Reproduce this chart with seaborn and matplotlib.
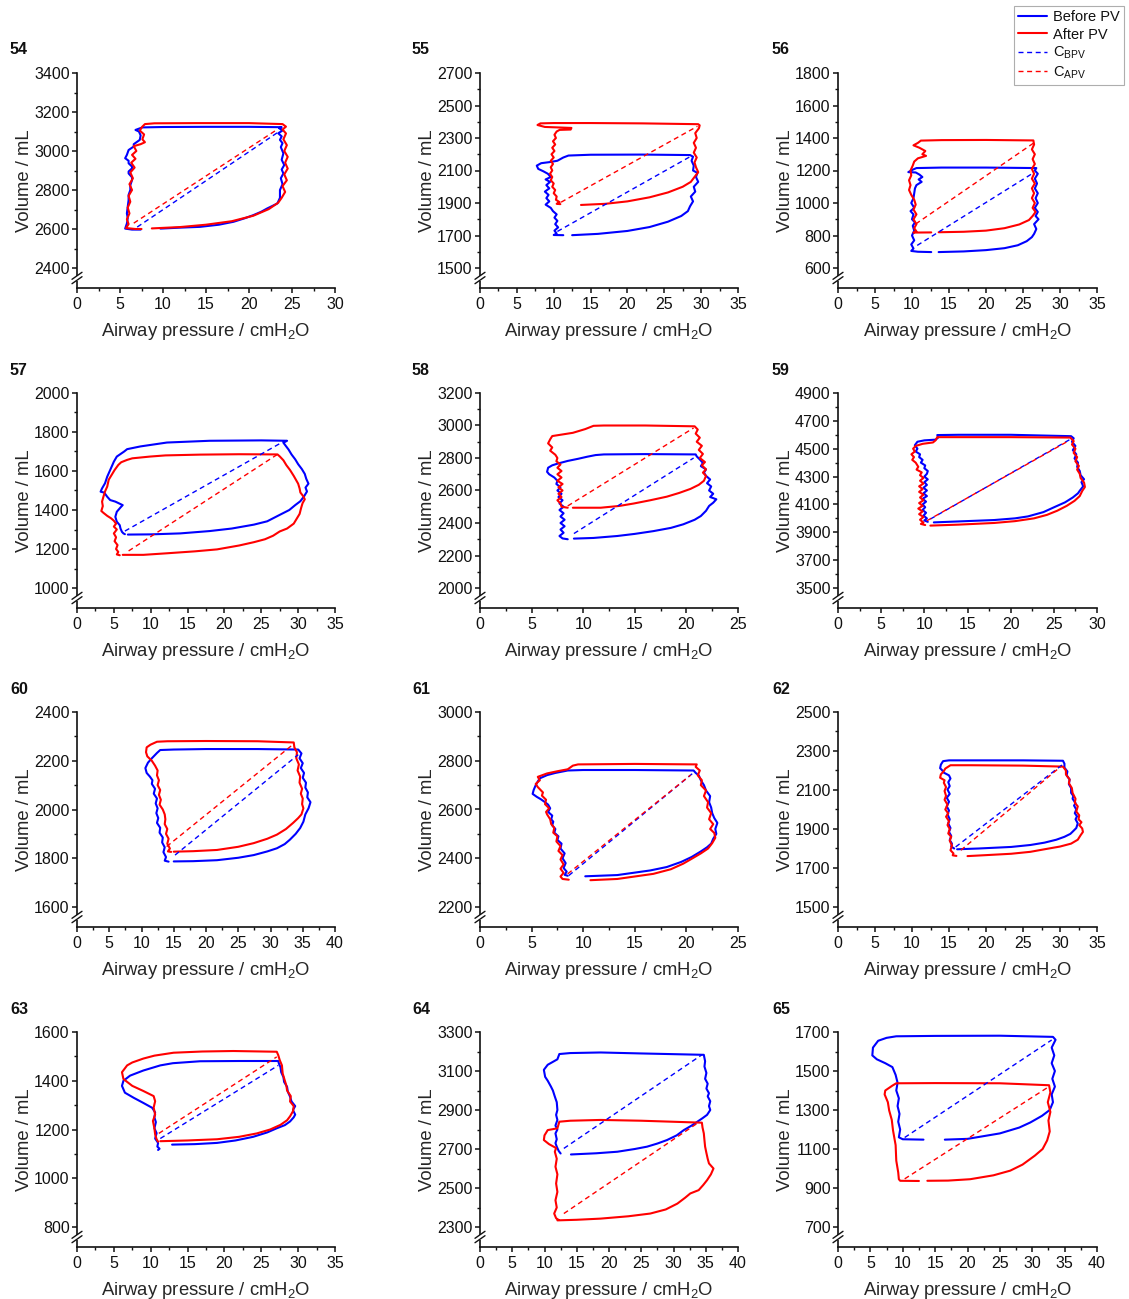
import numpy as np
import pandas as pd
import matplotlib
matplotlib.use("Agg")
import matplotlib.pyplot as plt
from matplotlib.lines import Line2D
from matplotlib.patches import Rectangle
import seaborn as sns

# ---------------------------------------------------------------- panel setup
PANEL_IDS = [54, 55, 56, 57, 58, 59, 60, 61, 62, 63, 64, 65]
X_MAX = [30, 35, 35, 35, 25, 30, 40, 25, 35, 35, 40, 40]
Y_TOP = [3400, 2700, 1800, 2000, 3200, 4900, 2400, 3000, 2500, 1600, 3300, 1700]
Y_BOTTOM = [2400, 1500, 600, 1000, 2000, 3500, 1600, 2200, 1500, 800, 2300, 700]

# ------------------------------------------------ PV loops (pressure, volume)
before_54 = [(9.7, 2602), (12, 2607), (14.3, 2611), (16.5, 2622), (18.2, 2637), (19.5, 2655), (20.5, 2671),
             (21.4, 2688), (22.1, 2705), (22.8, 2720), (23.3, 2731), (23.6, 2760), (23.6, 2800), (23.9, 2830),
             (23.7, 2860), (24.0, 2885), (23.8, 2905), (24.1, 2928), (23.8, 2955), (24.0, 2988), (23.7, 3020),
             (23.9, 3040), (23.6, 3057), (23.8, 3075), (23.4, 3091), (23.9, 3105), (23.5, 3117), (23.8, 3122),
             (20, 3124), (15, 3124), (10, 3123), (7.6, 3121), (6.8, 3108), (7.2, 3100), (7.4, 3080), (7.3, 3057),
             (6.6, 3035), (6.6, 3023), (6.0, 3005), (5.8, 2980), (5.6, 2963), (6.0, 2950), (6.0, 2937),
             (6.4, 2920), (6.4, 2911), (6.0, 2895), (6.0, 2885), (6.4, 2865), (6.4, 2851), (6.2, 2825),
             (6.2, 2800), (6.0, 2775), (6.0, 2748), (5.9, 2715), (5.8, 2680), (5.9, 2655), (5.8, 2628),
             (5.6, 2602), (6.4, 2597), (7.4, 2597)]
after_54 = [(8.7, 2603), (12, 2610), (15, 2622), (18, 2640), (20.5, 2668), (22.3, 2702), (23.4, 2735),
            (23.8, 2760), (24.2, 2790), (23.9, 2820), (24.4, 2850), (24.1, 2880), (24.5, 2910), (24.2, 2940),
            (24.5, 2970), (24.1, 3000), (24.4, 3030), (24.0, 3060), (24.3, 3090), (23.9, 3110), (24.3, 3125),
            (23.9, 3138), (20, 3143), (14, 3143), (9, 3142), (7.9, 3138), (7.6, 3125), (7.3, 3105), (7.8, 3085),
            (7.6, 3060), (7.9, 3045), (7.4, 3035), (6.6, 3025), (6.9, 3000), (6.4, 2980), (6.8, 2960),
            (6.3, 2940), (6.7, 2915), (6.2, 2890), (6.5, 2860), (6.1, 2830), (6.4, 2800), (6.0, 2770),
            (6.2, 2740), (5.9, 2710), (6.1, 2680), (5.8, 2650), (6.0, 2625), (5.7, 2605), (6.8, 2600),
            (7.5, 2600)]

before_55 = [(12.5, 1702), (16, 1710), (20, 1728), (23, 1752), (25.5, 1785), (27.3, 1820), (28.2, 1850),
             (28.5, 1880), (28.9, 1910), (28.6, 1940), (29.2, 1970), (29.0, 2000), (29.6, 2030), (29.3, 2060),
             (29.5, 2085), (28.9, 2100), (29.0, 2130), (28.7, 2160), (28.9, 2185), (28.5, 2195), (22, 2198),
             (15, 2197), (12, 2192), (11.3, 2180), (10.5, 2160), (9.5, 2152), (8.3, 2145), (7.7, 2130),
             (7.9, 2110), (8.6, 2095), (9.2, 2080), (9.6, 2060), (8.9, 2045), (9.5, 2030), (9.0, 2010),
             (9.4, 1990), (8.8, 1970), (9.3, 1950), (9.0, 1930), (9.4, 1910), (8.9, 1890), (9.6, 1870),
             (9.9, 1850), (10.4, 1830), (10.1, 1810), (10.5, 1790), (10.2, 1770), (10.6, 1750), (10.1, 1730),
             (10.4, 1712), (10.0, 1703), (11.3, 1702)]
after_55 = [(13.7, 1888), (17, 1895), (20, 1910), (23, 1935), (25.5, 1965), (27.5, 2000), (28.6, 2030),
            (29.1, 2060), (29.6, 2090), (29.3, 2120), (29.1, 2150), (29.4, 2180), (29.0, 2210), (29.3, 2240),
            (29.0, 2270), (29.4, 2300), (29.2, 2330), (29.7, 2360), (29.8, 2378), (29.6, 2385), (22, 2390),
            (15, 2392), (10, 2392), (8.2, 2390), (7.8, 2380), (8.8, 2368), (12.4, 2362), (12.3, 2352),
            (10.8, 2350), (10.4, 2340), (10.1, 2320), (10.3, 2300), (9.9, 2280), (10.2, 2260), (9.8, 2240),
            (10.1, 2220), (9.7, 2200), (10.0, 2180), (9.6, 2160), (9.9, 2140), (9.6, 2120), (9.8, 2100),
            (9.5, 2080), (9.8, 2060), (9.6, 2040), (10.0, 2020), (9.8, 2000), (10.2, 1980), (10.0, 1960),
            (10.4, 1940), (10.3, 1920), (10.8, 1905), (10.4, 1895), (10.9, 1893)]

before_56 = [(13.6, 698), (17, 702), (20, 710), (22.5, 722), (24.3, 740), (25.5, 765), (26.2, 790),
             (26.5, 810), (26.8, 840), (26.5, 870), (27.1, 900), (26.7, 920), (27.0, 945), (26.6, 970),
             (27.0, 1000), (26.7, 1030), (27.0, 1060), (26.6, 1090), (26.9, 1120), (26.6, 1150), (27.0, 1180),
             (26.6, 1200), (26.8, 1215), (20, 1218), (14, 1218), (10.6, 1215), (10.1, 1205), (9.5, 1190),
             (10.5, 1188), (11.0, 1175), (11.4, 1160), (10.9, 1145), (11.3, 1130), (10.6, 1110), (10.4, 1090),
             (10.3, 1060), (10.2, 1030), (9.9, 1000), (10.3, 970), (9.8, 950), (10.2, 930), (10.0, 900),
             (10.4, 880), (10.1, 860), (10.3, 830), (10.0, 800), (10.3, 770), (9.9, 745), (10.2, 720),
             (9.9, 705), (10.8, 700), (12.6, 698)]
after_56 = [(13.6, 820), (17, 823), (20, 830), (22.5, 845), (24.5, 868), (25.8, 895), (26.3, 920),
            (26.7, 945), (26.3, 970), (26.6, 1000), (26.2, 1030), (26.5, 1060), (26.2, 1090), (26.6, 1120),
            (26.2, 1150), (26.5, 1180), (26.2, 1210), (26.6, 1240), (26.3, 1270), (26.6, 1300), (26.2, 1330),
            (26.5, 1360), (26.4, 1385), (20, 1388), (14, 1387), (11.2, 1384), (10.8, 1370), (10.2, 1355),
            (11.0, 1340), (11.8, 1320), (11.4, 1300), (11.9, 1290), (10.8, 1275), (10.3, 1255), (10.1, 1230),
            (9.8, 1200), (9.9, 1170), (9.6, 1140), (9.8, 1110), (9.6, 1080), (9.9, 1050), (10.3, 1020),
            (10.5, 990), (10.2, 960), (10.6, 930), (10.2, 900), (10.6, 870), (10.3, 845), (10.6, 825),
            (10.2, 818), (12.6, 819)]

before_57 = [(6.9, 1274), (10, 1275), (14, 1280), (18, 1292), (21, 1305), (24, 1325), (25.8, 1342),
             (27.5, 1375), (28.8, 1400), (29.6, 1425), (30.3, 1445), (30.8, 1470), (31.2, 1495), (31.0, 1515),
             (31.4, 1535), (31.1, 1560), (30.9, 1585), (30.5, 1610), (30.0, 1635), (29.6, 1660), (29.1, 1685),
             (28.7, 1710), (28.3, 1730), (28.0, 1745), (28.5, 1755), (25, 1757), (18, 1755), (12.2, 1746),
             (8.6, 1726), (6.8, 1712), (6.4, 1700), (5.4, 1674), (5.0, 1648), (4.5, 1605), (4.1, 1571),
             (3.8, 1537), (3.4, 1511), (3.2, 1494), (3.7, 1489), (4.1, 1468), (4.5, 1451), (5.2, 1443),
             (6.2, 1425), (5.9, 1413), (5.4, 1391), (5.2, 1365), (5.4, 1340), (5.8, 1322), (5.9, 1305),
             (6.1, 1288), (6.3, 1280), (6.5, 1276)]
after_57 = [(6.2, 1170), (9, 1170), (12.2, 1178), (16, 1188), (19, 1198), (22, 1218), (24, 1235),
            (25.5, 1250), (26.6, 1268), (27.5, 1290), (28.5, 1305), (29.4, 1330), (29.8, 1355), (30.2, 1380),
            (30.4, 1410), (30.6, 1435), (30.9, 1455), (30.7, 1470), (30.3, 1490), (30.2, 1510), (30.0, 1535),
            (29.7, 1555), (29.4, 1575), (28.9, 1605), (28.4, 1630), (28.0, 1655), (27.5, 1675), (27.2, 1685),
            (22, 1686), (16.7, 1684), (12, 1680), (9.9, 1674), (7.5, 1665), (6.8, 1657), (6.0, 1645),
            (5.6, 1631), (5.1, 1605), (4.7, 1580), (4.3, 1555), (4.1, 1520), (3.8, 1495), (3.6, 1470),
            (3.4, 1443), (3.5, 1420), (3.3, 1395), (3.6, 1385), (4.1, 1370), (4.6, 1358), (5.0, 1345),
            (5.3, 1330), (5.0, 1315), (5.4, 1300), (5.0, 1280), (5.3, 1260), (5.1, 1240), (5.5, 1220),
            (5.3, 1200), (5.6, 1185), (5.4, 1172), (5.8, 1168)]

before_58 = [(9.1, 2304), (11, 2308), (13.3, 2320), (15, 2333), (16.8, 2350), (18.5, 2370), (19.7, 2392),
             (20.8, 2420), (21.4, 2443), (21.9, 2475), (22.2, 2505), (22.6, 2525), (22.9, 2546), (22.3, 2560),
             (22.6, 2580), (22.2, 2600), (22.4, 2625), (22.0, 2645), (22.3, 2668), (21.9, 2690), (21.7, 2710),
             (21.9, 2730), (21.4, 2750), (21.6, 2770), (21.3, 2791), (21.0, 2810), (20.9, 2822), (16, 2824),
             (12, 2822), (11.2, 2818), (10.4, 2808), (9.5, 2795), (8.5, 2782), (7.5, 2765), (7.0, 2755),
             (6.6, 2740), (6.5, 2715), (6.7, 2700), (7.2, 2680), (7.5, 2660), (7.4, 2640), (7.8, 2620),
             (7.5, 2600), (7.9, 2580), (7.6, 2560), (8.0, 2540), (7.7, 2520), (8.1, 2500), (7.7, 2480),
             (8.1, 2460), (7.8, 2440), (8.2, 2420), (7.8, 2400), (8.2, 2380), (7.8, 2360), (8.1, 2340),
             (7.7, 2320), (8.0, 2305), (8.5, 2300)]
after_58 = [(9.0, 2494), (11.7, 2494), (13.5, 2505), (14.9, 2520), (16.5, 2540), (18.1, 2562), (19.3, 2585),
            (20.4, 2610), (21.2, 2635), (21.7, 2660), (21.9, 2690), (21.6, 2710), (21.9, 2730), (21.5, 2755),
            (21.8, 2775), (21.3, 2800), (21.6, 2825), (21.2, 2850), (21.5, 2875), (21.0, 2900), (21.3, 2925),
            (20.9, 2950), (21.1, 2975), (20.8, 2995), (16, 3000), (12, 3000), (11.0, 2998), (10.2, 2978),
            (9.0, 2955), (8.0, 2945), (7.0, 2935), (6.8, 2915), (6.6, 2890), (7.0, 2865), (6.8, 2845),
            (7.3, 2820), (7.5, 2800), (7.4, 2780), (7.8, 2760), (7.5, 2740), (7.9, 2720), (7.5, 2700),
            (7.9, 2680), (7.5, 2660), (8.0, 2640), (7.6, 2620), (8.0, 2600), (7.6, 2580), (7.9, 2560),
            (7.5, 2540), (7.8, 2520), (7.9, 2500), (8.5, 2494)]

before_59 = [(11.1, 3971), (14, 3978), (18.1, 3988), (20.5, 4000), (22, 4014), (23.8, 4045), (25, 4079),
             (26.3, 4115), (27.2, 4150), (27.8, 4180), (28.0, 4198), (28.4, 4230), (28.2, 4260), (28.5, 4281),
             (28.1, 4310), (28.0, 4340), (27.7, 4370), (27.8, 4400), (27.4, 4430), (27.6, 4460), (27.2, 4490),
             (27.5, 4520), (27.1, 4550), (27.3, 4575), (27.0, 4590), (20, 4600), (14, 4600), (11.5, 4598),
             (11.6, 4580), (11.3, 4565), (10.0, 4560), (9.2, 4550), (8.9, 4525), (9.2, 4500), (9.0, 4480),
             (9.5, 4460), (9.4, 4440), (9.8, 4420), (9.6, 4400), (10.1, 4380), (10.0, 4360), (10.4, 4340),
             (10.3, 4320), (10.0, 4300), (10.4, 4280), (10.0, 4260), (10.3, 4240), (9.9, 4220), (10.3, 4200),
             (9.9, 4180), (10.3, 4160), (9.8, 4140), (10.2, 4120), (9.8, 4100), (10.1, 4080), (9.8, 4060),
             (10.2, 4040), (9.9, 4020), (10.3, 4000), (10.0, 3985), (10.4, 3975)]
after_59 = [(10.7, 3948), (14, 3955), (18.1, 3967), (20.5, 3980), (22.7, 4000), (24.2, 4025), (25.4, 4055),
            (26.5, 4090), (27.4, 4126), (28.0, 4160), (28.3, 4198), (28.6, 4225), (28.5, 4257), (28.1, 4290),
            (28.0, 4320), (27.7, 4350), (27.9, 4376), (27.5, 4410), (27.7, 4440), (27.3, 4470), (27.5, 4500),
            (27.1, 4530), (27.3, 4555), (26.9, 4580), (20, 4583), (14, 4583), (11.5, 4583), (11.3, 4560),
            (11.0, 4545), (9.8, 4535), (9.0, 4520), (8.7, 4500), (8.9, 4480), (8.5, 4460), (8.8, 4440),
            (8.6, 4420), (9.0, 4400), (9.3, 4370), (9.1, 4350), (9.7, 4330), (9.5, 4310), (9.9, 4290),
            (9.5, 4270), (9.9, 4250), (9.4, 4230), (9.8, 4210), (9.4, 4190), (9.9, 4170), (9.5, 4150),
            (9.9, 4130), (9.4, 4110), (9.8, 4090), (9.3, 4070), (9.8, 4050), (9.4, 4030), (9.9, 4010),
            (9.5, 3990), (9.9, 3970), (9.6, 3960), (10.1, 3952)]

before_60 = [(15.0, 1787), (18, 1788), (21.7, 1792), (25, 1802), (27.4, 1813), (29.5, 1828), (31, 1841),
             (32.2, 1858), (33, 1876), (33.9, 1900), (34.6, 1924), (35.1, 1950), (35.4, 1980), (35.9, 2005),
             (36.2, 2030), (35.7, 2050), (35.8, 2070), (35.4, 2090), (35.5, 2110), (35.0, 2130), (35.2, 2150),
             (34.7, 2170), (35.0, 2190), (34.5, 2210), (34.8, 2230), (34.3, 2246), (28, 2248), (20, 2248),
             (15, 2246), (12.9, 2244), (12.4, 2232), (11.6, 2210), (11.0, 2192), (10.6, 2170), (10.8, 2150),
             (11.3, 2135), (11.7, 2120), (11.6, 2105), (12.1, 2085), (11.9, 2065), (12.4, 2045), (12.2, 2025),
             (12.5, 2005), (12.3, 1985), (12.6, 1965), (12.4, 1945), (12.9, 1925), (12.8, 1905), (13.3, 1885),
             (13.2, 1865), (13.6, 1845), (13.4, 1825), (13.8, 1805), (13.6, 1790), (14.2, 1786)]
after_60 = [(15.0, 1827), (18, 1829), (21.7, 1834), (25, 1847), (27.4, 1862), (29.5, 1880), (31, 1897),
            (32.4, 1920), (33.5, 1945), (34.3, 1965), (34.8, 1980), (35.1, 2005), (34.9, 2022), (35.0, 2045),
            (34.7, 2065), (34.9, 2085), (34.5, 2110), (34.6, 2135), (34.2, 2160), (34.4, 2185), (34.0, 2210),
            (34.1, 2235), (33.7, 2255), (33.6, 2275), (28, 2280), (20, 2281), (14, 2280), (12.4, 2278),
            (11.4, 2266), (10.8, 2255), (10.7, 2235), (10.9, 2218), (11.6, 2200), (12.1, 2180), (12.5, 2160),
            (12.4, 2140), (12.7, 2120), (12.5, 2100), (12.9, 2080), (12.7, 2060), (13.0, 2040), (12.8, 2020),
            (13.3, 2000), (13.6, 1980), (13.7, 1960), (13.6, 1940), (14.0, 1920), (13.8, 1900), (14.2, 1880),
            (14.0, 1860), (14.4, 1840), (14.1, 1828), (14.6, 1826)]

before_61 = [(10.2, 2326), (13.3, 2331), (16.5, 2350), (18.1, 2364), (19.5, 2385), (20.5, 2405), (21.4, 2428),
             (22.0, 2445), (22.4, 2460), (22.6, 2480), (22.9, 2500), (22.8, 2520), (23.0, 2545), (22.7, 2565),
             (22.5, 2585), (22.4, 2608), (22.2, 2630), (22.3, 2655), (21.9, 2678), (21.7, 2700), (21.4, 2720),
             (21.2, 2740), (20.9, 2750), (20.7, 2760), (15, 2762), (10, 2762), (8.5, 2760), (7.3, 2750),
             (6.5, 2741), (5.8, 2728), (5.6, 2715), (5.4, 2700), (5.2, 2680), (5.1, 2664), (5.5, 2652),
             (5.9, 2642), (6.3, 2630), (6.6, 2620), (6.8, 2605), (6.6, 2590), (7.0, 2575), (6.9, 2560),
             (7.1, 2550), (7.0, 2535), (7.3, 2520), (7.2, 2505), (7.6, 2490), (7.5, 2475), (7.9, 2460),
             (7.8, 2440), (8.2, 2420), (8.0, 2400), (8.3, 2380), (8.1, 2360), (8.4, 2345), (8.2, 2332),
             (8.5, 2328)]
after_61 = [(10.7, 2310), (13.3, 2315), (16.8, 2336), (18.5, 2355), (19.7, 2378), (20.6, 2400), (21.4, 2420),
            (22.1, 2440), (22.5, 2462), (22.8, 2484), (22.7, 2504), (22.3, 2520), (22.6, 2540), (22.2, 2560),
            (22.4, 2585), (22.0, 2608), (22.1, 2630), (21.7, 2655), (21.9, 2678), (21.4, 2700), (21.5, 2720),
            (21.1, 2740), (21.3, 2760), (20.9, 2775), (21.0, 2785), (15, 2787), (9.5, 2785), (9.0, 2780),
            (8.5, 2765), (7.5, 2757), (6.5, 2748), (5.6, 2734), (5.8, 2720), (5.4, 2705), (5.6, 2692),
            (6.1, 2670), (6.0, 2657), (6.4, 2640), (6.3, 2622), (6.7, 2605), (6.4, 2590), (6.5, 2580),
            (6.8, 2560), (6.9, 2540), (7.2, 2525), (7.1, 2505), (7.5, 2490), (7.4, 2469), (7.8, 2450),
            (7.6, 2430), (8.0, 2413), (7.8, 2395), (8.1, 2375), (7.8, 2357), (8.1, 2340), (7.8, 2325),
            (8.0, 2315), (8.6, 2312)]

before_62 = [(16.1, 1796), (19, 1800), (23.4, 1808), (26, 1818), (27.9, 1830), (29.5, 1845), (30.6, 1860),
             (31.4, 1875), (31.7, 1886), (32.2, 1905), (32.4, 1929), (32.1, 1950), (32.3, 1965), (32.0, 1981),
             (32.2, 2000), (31.9, 2020), (32.1, 2033), (31.7, 2055), (31.8, 2070), (31.5, 2085), (31.5, 2110),
             (31.2, 2130), (31.3, 2154), (30.9, 2175), (31.0, 2195), (30.6, 2215), (30.6, 2235), (30.4, 2250),
             (25, 2252), (18, 2252), (15, 2252), (14.2, 2248), (13.9, 2230), (13.8, 2212), (14.1, 2200),
             (14.3, 2189), (15.0, 2175), (15.2, 2159), (14.9, 2140), (15.1, 2120), (14.8, 2102), (15.1, 2080),
             (14.7, 2060), (15.0, 2040), (14.7, 2016), (15.0, 1995), (14.8, 1975), (15.1, 1950), (14.9, 1929),
             (15.2, 1905), (15.0, 1885), (15.3, 1865), (15.1, 1843), (15.4, 1825), (15.3, 1810), (15.7, 1800)]
after_62 = [(17.5, 1761), (20, 1766), (23.4, 1773), (26, 1783), (27.9, 1796), (30, 1810), (31.5, 1825),
            (32.4, 1845), (32.8, 1869), (33.1, 1885), (33.0, 1903), (32.6, 1920), (32.9, 1935), (32.5, 1950),
            (32.6, 1970), (32.2, 1990), (32.4, 2016), (32.0, 2035), (32.1, 2055), (31.7, 2085), (31.6, 2110),
            (31.2, 2135), (31.3, 2154), (30.8, 2180), (30.8, 2200), (30.4, 2220), (25, 2225), (18, 2227),
            (15.2, 2227), (14.5, 2210), (14.3, 2197), (13.9, 2180), (13.8, 2163), (14.4, 2150), (14.3, 2137),
            (14.6, 2115), (14.4, 2095), (14.6, 2070), (14.4, 2050), (14.8, 2025), (14.5, 2000), (14.9, 1980),
            (14.6, 1963), (15.0, 1940), (14.8, 1920), (15.1, 1900), (14.9, 1877), (15.3, 1860), (15.1, 1840),
            (15.4, 1815), (15.2, 1791), (15.6, 1775), (15.5, 1765), (16.0, 1762)]

before_63 = [(12.9, 1138), (16, 1140), (19, 1145), (21.5, 1155), (23.9, 1170), (25.8, 1188), (27.1, 1205),
             (28.2, 1218), (28.9, 1233), (29.4, 1250), (29.6, 1261), (29.3, 1280), (29.6, 1296), (29.1, 1315),
             (28.9, 1335), (28.6, 1355), (28.5, 1375), (28.1, 1395), (28.0, 1415), (27.7, 1435), (27.6, 1456),
             (27.4, 1470), (27.3, 1481), (22, 1481), (16.7, 1480), (13, 1472), (11.3, 1463), (9.0, 1442),
             (7.2, 1421), (6.3, 1400), (6.1, 1379), (6.5, 1351), (7.7, 1330), (9.0, 1309), (10.2, 1289),
             (10.6, 1270), (10.5, 1250), (10.7, 1230), (10.5, 1205), (10.8, 1185), (10.6, 1163), (11.0, 1145),
             (10.9, 1130), (11.2, 1121), (11.0, 1116)]
after_63 = [(11.3, 1152), (15, 1155), (19, 1160), (22, 1170), (24.4, 1184), (26.2, 1200), (27.6, 1219),
            (28.5, 1238), (28.9, 1254), (29.3, 1275), (29.4, 1296), (28.9, 1315), (29.0, 1337), (28.5, 1360),
            (28.4, 1380), (28.2, 1400), (27.9, 1430), (27.8, 1463), (27.5, 1485), (27.3, 1505), (27.1, 1519),
            (21.2, 1522), (17, 1520), (13.1, 1515), (10.5, 1503), (9.0, 1491), (7.5, 1475), (6.8, 1463),
            (6.1, 1435), (6.3, 1407), (7.5, 1379), (9.0, 1358), (10.4, 1337), (10.6, 1316), (10.4, 1290),
            (10.6, 1261), (10.3, 1235), (10.5, 1205), (10.6, 1180), (10.8, 1160), (11.0, 1150)]

before_64 = [(14.1, 2672), (18, 2678), (21.3, 2686), (24, 2700), (25.9, 2712), (27.5, 2728), (29.0, 2746),
             (30.5, 2770), (31.6, 2797), (32.8, 2820), (33.7, 2840), (34.5, 2858), (35.2, 2875), (35.7, 2900),
             (35.5, 2920), (35.7, 2945), (35.3, 2970), (35.5, 2986), (35.1, 3010), (35.3, 3035), (34.9, 3060),
             (35.1, 3090), (34.8, 3123), (34.9, 3150), (34.7, 3183), (25, 3190), (18.7, 3195), (14, 3192),
             (12.3, 3187), (12.0, 3160), (11.2, 3145), (10.5, 3132), (9.9, 3106), (10.1, 3070), (10.5, 3050),
             (11.0, 3020), (11.3, 3000), (11.6, 2969), (11.9, 2940), (12.0, 2900), (11.8, 2875), (12.0, 2849),
             (11.7, 2820), (12.0, 2800), (11.7, 2780), (11.9, 2750), (11.7, 2730), (11.9, 2712), (12.2, 2690),
             (12.5, 2677)]
after_64 = [(12.0, 2334), (15, 2337), (18.7, 2343), (23, 2355), (26.4, 2369), (28.8, 2390), (30.6, 2420),
            (31.8, 2450), (32.6, 2472), (33.9, 2489), (34.6, 2515), (35.2, 2540), (35.8, 2570), (36.2, 2600),
            (35.5, 2626), (35.3, 2650), (35.1, 2680), (34.9, 2712), (34.8, 2745), (34.7, 2780), (34.5, 2810),
            (34.4, 2835), (25, 2845), (18.7, 2849), (14, 2845), (12.3, 2840), (12.0, 2806), (11.0, 2800),
            (10.5, 2797), (10.0, 2770), (9.9, 2746), (10.7, 2725), (11.8, 2705), (11.6, 2686), (11.9, 2650),
            (11.7, 2609), (12.0, 2570), (11.8, 2523), (12.0, 2480), (11.7, 2437), (11.9, 2400), (11.5, 2369),
            (11.8, 2345), (12.2, 2336)]

before_65 = [(16.5, 1148), (20, 1152), (25, 1180), (28, 1210), (29.7, 1236), (31.5, 1270), (32.7, 1300),
             (33.2, 1340), (33.0, 1380), (33.5, 1420), (33.1, 1460), (33.5, 1500), (33.0, 1540), (33.4, 1580),
             (33.0, 1620), (33.6, 1660), (33.2, 1675), (25, 1681), (15, 1680), (9, 1678), (7.5, 1670),
             (6.2, 1655), (5.4, 1620), (5.3, 1580), (6.0, 1560), (7.3, 1540), (8.4, 1520), (8.9, 1480),
             (9.2, 1440), (9.0, 1400), (9.4, 1360), (9.2, 1320), (9.5, 1280), (9.3, 1240), (9.6, 1200),
             (9.4, 1160), (10.0, 1150), (13.2, 1148)]
after_65 = [(13.8, 937), (17, 938), (20.4, 945), (24, 965), (26.6, 989), (28.5, 1020), (30.4, 1066),
            (31.6, 1100), (32.3, 1144), (32.7, 1190), (32.5, 1246), (32.8, 1290), (32.4, 1340), (32.8, 1390),
            (32.6, 1427), (25, 1437), (15, 1438), (9, 1437), (8.4, 1425), (7.3, 1400), (7.2, 1380),
            (7.7, 1340), (7.9, 1298), (8.3, 1250), (8.5, 1195), (8.9, 1120), (9.0, 1040), (9.3, 980),
            (9.4, 945), (9.6, 937), (12.5, 936)]

# -------------------------- compliance lines: end-expiration -> end-inspiration
cbpv_54 = [(7.0, 2610), (23.5, 3100)]
capv_54 = [(6.6, 2630), (23.2, 3108)]
cbpv_55 = [(10.5, 1725), (28.5, 2185)]
capv_55 = [(11.0, 1905), (29.5, 2372)]
cbpv_56 = [(10.7, 739), (26.5, 1188)]
capv_56 = [(10.5, 871), (26.5, 1371)]
cbpv_57 = [(6.5, 1292), (28.0, 1751)]
capv_57 = [(7.0, 1190), (27.1, 1683)]
cbpv_58 = [(9.1, 2335), (20.7, 2800)]
capv_58 = [(8.5, 2505), (20.7, 2985)]
cbpv_59 = [(10.7, 3995), (27.0, 4571)]
capv_59 = [(10.3, 3983), (26.8, 4560)]
cbpv_60 = [(15.2, 1813), (34.3, 2225)]
capv_60 = [(13.9, 1848), (33.5, 2267)]
cbpv_61 = [(8.6, 2329), (20.6, 2748)]
capv_61 = [(8.5, 2336), (20.4, 2741)]
cbpv_62 = [(15.9, 1808), (30.4, 2232)]
capv_62 = [(16.6, 1791), (30.1, 2220)]
cbpv_63 = [(11.3, 1163), (27.3, 1463)]
capv_63 = [(11.1, 1184), (27.1, 1498)]
cbpv_64 = [(13.0, 2703), (34.4, 3183)]
capv_64 = [(13.0, 2369), (33.7, 2832)]
cbpv_65 = [(10.3, 1159), (33.0, 1659)]
capv_65 = [(10.3, 947), (32.4, 1416)]

BEFORE = [before_54, before_55, before_56, before_57, before_58, before_59,
          before_60, before_61, before_62, before_63, before_64, before_65]
AFTER = [after_54, after_55, after_56, after_57, after_58, after_59,
         after_60, after_61, after_62, after_63, after_64, after_65]
C_BPV = [cbpv_54, cbpv_55, cbpv_56, cbpv_57, cbpv_58, cbpv_59,
         cbpv_60, cbpv_61, cbpv_62, cbpv_63, cbpv_64, cbpv_65]
C_APV = [capv_54, capv_55, capv_56, capv_57, capv_58, capv_59,
         capv_60, capv_61, capv_62, capv_63, capv_64, capv_65]

LABELS = ["Before PV", "After PV", r"C$_{\mathregular{BPV}}$", r"C$_{\mathregular{APV}}$"]
BLUE, RED = "#0000FF", "#FF0000"

# ---------------------------------------------------------------- styling
sns.set_style("ticks")
plt.rcParams["font.family"] = ["Liberation Sans", "DejaVu Sans"]
plt.rcParams["mathtext.fontset"] = "custom"
plt.rcParams["mathtext.rm"] = "Liberation Sans"
plt.rcParams["mathtext.it"] = "Liberation Sans:italic"
plt.rcParams["mathtext.bf"] = "Liberation Sans:bold"
plt.rcParams["text.color"] = "#111111"

W, H = 1129, 1299
fig = plt.figure(figsize=(W / 100, H / 100), dpi=100)
fig.patch.set_facecolor("white")

COL_LEFT = [77, 480, 838]
COL_WIDTH = [258, 258, 259]
ROW_TOP = [73, 393, 712, 1032]
AX_H = 215          # from top tick to x axis, px
TICK_SPAN = 195     # from top tick to bottom tick, px
NUM_X = [10, 412, 772]


def frame(points_a, points_b, names):
    rows = []
    for pts, name in zip((points_a, points_b), names):
        for k, (p, v) in enumerate(pts):
            rows.append((p, v, name, k))
    return pd.DataFrame(rows, columns=["P", "V", "series", "k"])


def add_break(ax):
    w_px, h_px = ax.bbox.width, ax.bbox.height
    yb = 10 / h_px
    ax.add_patch(Rectangle((-4 / w_px, yb - 2.5 / h_px), 8 / w_px, 5 / h_px,
                           transform=ax.transAxes, facecolor="white", edgecolor="none",
                           clip_on=False, zorder=5))
    for off in (-2.2, 2.2):
        ax.plot([-5 / w_px, 5 / w_px],
                [yb + (off - 3.5) / h_px, yb + (off + 3.5) / h_px],
                transform=ax.transAxes, color="#111111", lw=1.0, clip_on=False, zorder=6)


for i, pid in enumerate(PANEL_IDS):
    r, c = divmod(i, 3)
    left, width, top = COL_LEFT[c], COL_WIDTH[c], ROW_TOP[r]
    ax = fig.add_axes([left / W, 1 - (top + AX_H) / H, width / W, AX_H / H])

    loops = frame(BEFORE[i], AFTER[i], ["Before PV", "After PV"])
    sns.lineplot(data=loops, x="P", y="V", hue="series", units="series",
                 hue_order=["Before PV", "After PV"],
                 palette={"Before PV": BLUE, "After PV": RED},
                 sort=False, estimator=None, errorbar=None, lw=1.5, legend=False, ax=ax)

    comp = frame(C_BPV[i], C_APV[i], ["C_BPV", "C_APV"])
    sns.lineplot(data=comp, x="P", y="V", hue="series", units="series",
                 hue_order=["C_BPV", "C_APV"],
                 palette={"C_BPV": BLUE, "C_APV": RED},
                 sort=False, estimator=None, errorbar=None, lw=1.0, legend=False, ax=ax)
    for ln in ax.lines[2:]:
        ln.set_dashes((3.6, 2.6))

    yt, yb = Y_TOP[i], Y_BOTTOM[i]
    span = yt - yb
    ax.set_ylim(yb - span * (AX_H - TICK_SPAN) / TICK_SPAN, yt)
    ax.set_xlim(0, X_MAX[i])
    ax.set_yticks(np.arange(yb, yt + 1, 200))
    ax.set_yticks(np.arange(yb + 100, yt, 200), minor=True)
    ax.set_xticks(np.arange(0, X_MAX[i] + 1, 5))
    ax.set_xticks(np.arange(2.5, X_MAX[i], 5), minor=True)

    sns.despine(ax=ax)
    for s in ("left", "bottom"):
        ax.spines[s].set_linewidth(1.2)
        ax.spines[s].set_color("#111111")
    ax.tick_params(which="major", direction="out", length=3.8, width=1.1, color="#111111",
                   labelsize=11.5, labelcolor="#111111")
    ax.tick_params(which="minor", direction="out", length=2.2, width=1.0, color="#111111")
    ax.tick_params(axis="x", which="major", pad=2.5)
    ax.tick_params(axis="y", which="major", pad=1.5)

    ax.set_xlabel(r"Airway pressure / cmH$_2$O", fontsize=13.3, labelpad=7)
    ax.set_ylabel("Volume / mL", fontsize=13.3, labelpad=1)
    ax.set_facecolor("none")

    add_break(ax)
    fig.text(NUM_X[c] / W, 1 - (top - 23) / H, str(pid), fontsize=11.5, fontweight="bold",
             ha="left", va="center", color="#111111")

handles = [Line2D([], [], color=BLUE, lw=1.5),
           Line2D([], [], color=RED, lw=1.5),
           Line2D([], [], color=BLUE, lw=1.0, dashes=(3.6, 2.6)),
           Line2D([], [], color=RED, lw=1.0, dashes=(3.6, 2.6))]
leg = fig.legend(handles, LABELS, loc="upper right", bbox_to_anchor=(1124 / W, 1 - 6 / H),
                 frameon=True, fancybox=False, edgecolor="#9a9a9a", fontsize=10.5,
                 handlelength=2.0, handletextpad=0.4, borderpad=0.3, labelspacing=0.22,
                 borderaxespad=0)
leg.get_frame().set_linewidth(0.8)

fig.savefig("out.png", dpi=100, facecolor="white")
